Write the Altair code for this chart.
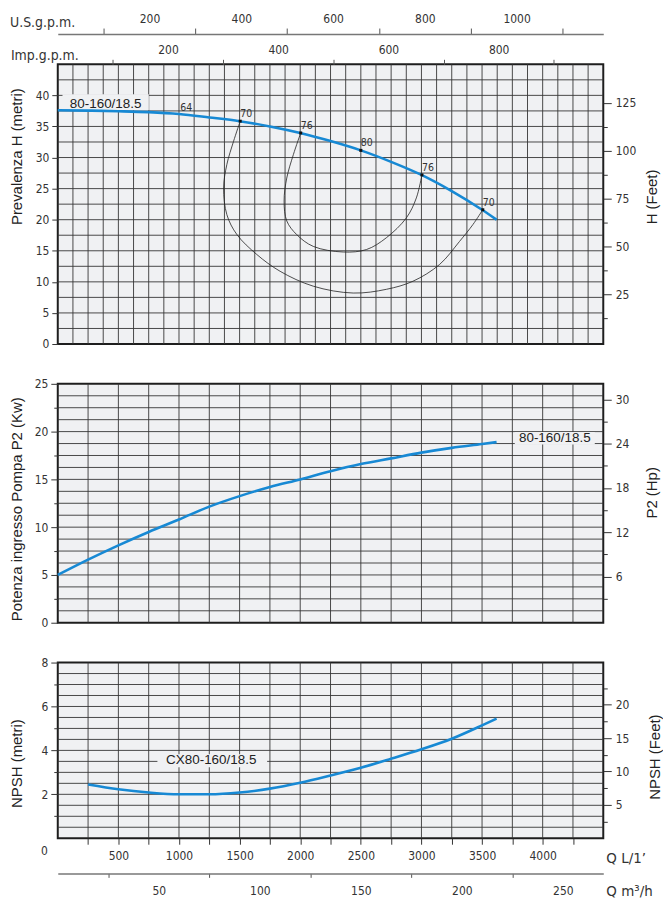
import altair as alt
import pandas as pd
import numpy as np

# ---------------- data ----------------
# Head curve  (Q in L/min, H in m)
q_h = [0, 250, 500, 750, 1000, 1250, 1500, 1750, 2000, 2250, 2500, 2750, 3000, 3250, 3500, 3620]
h_m = [37.6, 37.55, 37.45, 37.3, 37.0, 36.45, 35.85, 35.0, 33.95, 32.65, 31.15, 29.3, 27.2, 24.6, 21.6, 20.0]

# Power curve (kW)
q_p = [0, 250, 500, 750, 1000, 1250, 1500, 1750, 2000, 2250, 2500, 2750, 3000, 3250, 3500, 3620]
p_kw = [5.0, 6.6, 8.1, 9.5, 10.8, 12.15, 13.25, 14.2, 15.0, 15.85, 16.6, 17.2, 17.8, 18.3, 18.7, 18.9]

# NPSH curve (m)
q_n = [250, 500, 750, 1000, 1250, 1500, 1750, 2000, 2250, 2500, 2750, 3000, 3250, 3500, 3620]
npsh_m = [2.45, 2.23, 2.08, 2.0, 2.0, 2.08, 2.26, 2.53, 2.86, 3.21, 3.62, 4.05, 4.53, 5.14, 5.45]

# efficiency points on the head curve
eff_q = [1505, 2004, 2500, 3004, 3506]
eff_h = [35.85, 33.95, 31.15, 27.2, 21.6]
eff_lab = ["70", "76", "80", "76", "70"]
lab64_q = [1010]
lab64_h = [37.0]
lab64_t = ["64"]

# iso-efficiency contours
iso70_q = [1505, 1450, 1395, 1368, 1395, 1478, 1642, 1834, 2108, 2437, 2711, 2930, 3150, 3314, 3424, 3506]
iso70_h = [35.85, 32.6, 28.9, 25.1, 20.8, 17.6, 14.4, 11.7, 9.3, 8.2, 8.8, 10.1, 12.8, 16.5, 19.2, 21.6]
iso76_q = [2004, 1944, 1889, 1867, 1889, 1971, 2108, 2355, 2547, 2711, 2876, 2958, 3004]
iso76_h = [33.95, 30.5, 26.7, 23.0, 19.8, 17.6, 15.7, 14.8, 15.2, 17.1, 20.3, 23.5, 27.2]

# model labels (text, Q, value) and their background boxes (q1,q2,v1,v2)
lab_top = ("80-160/18.5", 395, 38.6, 39, 751, 37.6, 40.2)
lab_mid = ("80-160/18.5", 4100, 19.3, 3770, 4430, 18.65, 19.95)
lab_bot = ("CX80-160/18.5", 1266, 3.55, 822, 1727, 3.23, 3.82)

# the origin label printed at the lower-left corner of the sheet
origin_q = [0]
origin_v = [0]
origin_t = ["0"]

# unit conversions for the secondary axes
Q_MAX = 4500
L_PER_USG = 3.785
L_PER_IMPG = 4.546
L_PER_M3H = 1000 / 60

# secondary y-axis ranges as drawn on the sheet
FT_TOP = [-0.8, 145.2]
HP_MID = [-0.24, 32.09]
FT_BOT = [0, 26.3]

# grid spacing
top_vgrid = list(np.arange(125, 4500, 125))
top_hgrid = list(np.arange(2.5, 45, 2.5))
mid_vgrid = list(np.arange(250, 4500, 250))
mid_hgrid = list(np.arange(1.25, 25, 1.25))
bot_vgrid = list(np.arange(250, 4500, 250))
bot_hgrid = list(np.arange(0.5, 8, 0.5))

# ---------------- styling ----------------
FONT_T = "DejaVu Sans Condensed"
FONT_A = "Liberation Sans"
GRID = "#363636"
BG = "#f0f1f3"
BLUE = "#1789d4"
W = 548
TITLE_X = -41.6


def cond(test, a, b):
    return {"condition": {"test": test, "value": a}, "value": b}


def sc(dom):
    return alt.Scale(domain=dom, nice=False, zero=False)


class Panel:
    def __init__(self, ydom, xaxis, yaxis):
        self.ydom = ydom
        self.xaxis = xaxis
        self.yaxis = yaxis

    def X(self, first=False):
        return alt.X("q:Q", scale=sc([0, Q_MAX]), axis=self.xaxis if first else None)

    def Y(self, first=False):
        return alt.Y("v:Q", scale=sc(self.ydom), axis=self.yaxis if first else None)

    def grid(self, qs, vs):
        y0, y1 = self.ydom
        vg = alt.Chart(pd.DataFrame({"q": qs, "v": y0, "v2": y1})).mark_rule(
            color=GRID, strokeWidth=0.9).encode(x=self.X(True), y=self.Y(True), y2="v2:Q")
        hg = alt.Chart(pd.DataFrame({"v": vs, "q": 0, "q2": Q_MAX})).mark_rule(
            color=GRID, strokeWidth=0.9).encode(x=self.X(), y=self.Y(), x2="q2:Q")
        return [vg, hg]

    def label(self, lab):
        t, q, v, q1, q2, v1, v2 = lab
        bg = alt.Chart(pd.DataFrame({"q": [q1], "q2": [q2], "v": [v1], "v2": [v2]})).mark_rect(
            fill=BG).encode(x=self.X(), x2="q2:Q", y=self.Y(), y2="v2:Q")
        tx = alt.Chart(pd.DataFrame({"q": [q], "v": [v], "t": [t]})).mark_text(
            font=FONT_A, fontSize=13.5, color="#222", align="center", baseline="middle"
        ).encode(x=self.X(), y=self.Y(), text="t:N")
        return [bg, tx]

    def curve(self, qs, vs):
        return alt.Chart(pd.DataFrame({"q": qs, "v": vs})).mark_line(
            color=BLUE, strokeWidth=2.6, interpolate="monotone").encode(x=self.X(), y=self.Y())

    def dummy_y(self, dom, axis):
        return alt.Chart(pd.DataFrame({"q": [0, 0], "s": dom})).mark_point(opacity=0).encode(
            x=self.X(), y=alt.Y("s:Q", scale=sc(dom), axis=axis))

    def dummy_x(self, dom, axis):
        return alt.Chart(pd.DataFrame({"s": dom, "v": [self.ydom[0]] * 2})).mark_point(
            opacity=0).encode(x=alt.X("s:Q", scale=sc(dom), axis=axis), y=self.Y())


def right_axis(title, values, major, tx, ty):
    return alt.Axis(values=values, orient="right", domain=False, grid=False,
                    tickSize=cond(f"datum.value % {major} == 0", 8, 4), tickColor="#333",
                    labelExpr=f"datum.value % {major} == 0 ? datum.label : ''",
                    format="d", labelPadding=4, labelOverlap=False,
                    title=title, titleX=tx, titleY=ty, titleAngle=270,
                    titleAlign="center", titleBaseline="middle")


def left_axis(title, values, ty, major=None):
    kw = dict(values=values, orient="left", domain=False, grid=False, format="d",
              labelPadding=3, labelOverlap=False, title=title, titleX=TITLE_X, titleY=ty,
              titleAngle=270, titleAlign="center", titleBaseline="middle")
    if major is None:
        kw["tickSize"] = 6
    else:
        kw["tickSize"] = cond(f"datum.value % {major} == 0", 7, 4)
        kw["labelExpr"] = f"datum.value % {major} == 0 ? datum.label : ''"
    return alt.Axis(**kw)


def top_unit_axis(title, offset, values, major, tick, pad, tx, ty, domain):
    kw = dict(orient="top", offset=offset, values=values, grid=False, domain=domain,
              tickSize=tick, tickColor="#555", tickOpacity=cond(f"datum.value % {major} == 0", 0, 1),
              labelExpr=f"datum.value % {major} == 0 ? datum.label : ''", format="d",
              labelPadding=pad, labelOverlap=False, labelFlush=False,
              title=title, titleFont=FONT_T, titleFontSize=14, titleColor="#333",
              titleFontWeight="normal",
              titleX=tx, titleY=ty, titleAlign="left", titleBaseline="middle", titleAngle=0)
    if domain:
        kw["domainColor"] = "#777"
        kw["domainWidth"] = 1.5
    return alt.Axis(**kw)


def bottom_title_axis(title, **kw):
    return alt.Axis(orient="bottom", grid=False, format="d", labelOverlap=False, labelFlush=False,
                    title=title, titleFont=FONT_T, titleFontSize=15, titleColor="#333",
                    titleFontWeight="normal", titleX=550.6, titleAlign="left",
                    titleBaseline="middle", titleAngle=0, **kw)


# ---------------- top panel: head ----------------
H_TOP = 281
P1 = Panel([0, 45], None, left_axis("Prevalenza H (metri)", list(range(0, 45, 5)), 92.3))

iso_df = pd.concat([
    pd.DataFrame({"q": iso70_q, "v": iso70_h, "k": "70", "i": range(len(iso70_q))}),
    pd.DataFrame({"q": iso76_q, "v": iso76_h, "k": "76", "i": range(len(iso76_q))}),
])
iso = alt.Chart(iso_df).mark_line(color="#222", strokeWidth=0.8, interpolate="catmull-rom").encode(
    x=P1.X(), y=P1.Y(), detail="k:N", order="i:Q")
eff_df = pd.DataFrame({"q": eff_q, "v": eff_h, "t": eff_lab})
pts = alt.Chart(eff_df).mark_square(color="#111", size=9, opacity=1).encode(x=P1.X(), y=P1.Y())
effl = alt.Chart(eff_df).mark_text(font=FONT_T, fontSize=10.5, color="#333", align="left",
                                   baseline="bottom", dy=-2).encode(x=P1.X(), y=P1.Y(), text="t:N")
l64 = alt.Chart(pd.DataFrame({"q": lab64_q, "v": lab64_h, "t": lab64_t})).mark_text(
    font=FONT_T, fontSize=10.5, color="#333", align="left", baseline="bottom", dy=-1
).encode(x=P1.X(), y=P1.Y(), text="t:N")

ft_top = P1.dummy_y(FT_TOP, right_axis("H (Feet)", [12.5 * k for k in range(1, 11)],
                                       25, 48, 132.8))
us_d = P1.dummy_x([0, Q_MAX / L_PER_USG],
                  top_unit_axis("U.S.g.p.m.", 30.4, list(range(100, 1200, 100)), 200, 6, 2.5,
                                -48.5, -11.8, True))
imp_d = P1.dummy_x([0, Q_MAX / L_PER_IMPG],
                   top_unit_axis("Imp.g.p.m.", 0, list(range(100, 1000, 100)), 200, 5, 3.2,
                                 -47.6, -9.0, False))

top = alt.layer(*P1.grid(top_vgrid, top_hgrid), *P1.label(lab_top), iso,
                P1.curve(q_h, h_m), pts, effl, l64, ft_top, us_d, imp_d
                ).resolve_scale(x="independent", y="independent").properties(width=W, height=H_TOP)

# ---------------- middle panel: power ----------------
H_MID = 240
P2 = Panel([0, 25], None, left_axis("Potenza ingresso Pompa P2 (Kw)",
                                    [2.5 * k for k in range(0, 11)], 125.5, major=5))
hp_mid = P2.dummy_y(HP_MID, right_axis("P2 (Hp)", [3 * k for k in range(1, 11)], 6, 48.7, 109))
mid = alt.layer(*P2.grid(mid_vgrid, mid_hgrid), *P2.label(lab_mid), P2.curve(q_p, p_kw), hp_mid
                ).resolve_scale(x="independent", y="independent").properties(width=W, height=H_MID)

# ---------------- bottom panel: NPSH ----------------
H_BOT = 176.5
q_axis = bottom_title_axis(
    "Q  L/1’", values=list(range(250, 4500, 250)), domain=False,
    tickSize=6, tickColor="#333",
    labelExpr="datum.value % 500 == 0 ? datum.label : ''",
    labelPadding=6.5, titleY=19.3)
P3 = Panel([0, 8], q_axis, left_axis("NPSH (metri)", list(range(1, 9)), 101, major=2))
ft_bot = P3.dummy_y(FT_BOT, right_axis("NPSH (Feet)", [2.5 * k for k in range(1, 10)],
                                       5, 51, 94.5))
m3_axis = bottom_title_axis(
    "Q  m³/h", offset=35.3, values=list(range(25, 275, 25)),
    domain=True, domainColor="#777", domainWidth=1.5,
    tickSize=4, tickColor="#555", tickOpacity=cond("datum.value % 50 == 0", 0, 1),
    labelExpr="datum.value % 50 == 0 ? datum.label : ''", labelPadding=8, titleY=17.5)
m3_d = P3.dummy_x([0, Q_MAX / L_PER_M3H], m3_axis)
origin = alt.Chart(pd.DataFrame({"q": origin_q, "v": origin_v, "t": origin_t})).mark_text(
    font=FONT_T, fontSize=12, color="#333", align="right", baseline="middle", dx=-10, dy=13
).encode(x=P3.X(), y=P3.Y(), text="t:N")
bot = alt.layer(*P3.grid(bot_vgrid, bot_hgrid), *P3.label(lab_bot), P3.curve(q_n, npsh_m),
                origin, ft_bot, m3_d
                ).resolve_scale(x="independent", y="independent").properties(width=W, height=H_BOT)

chart = alt.vconcat(top, mid, bot, spacing=40, bounds="flush").properties(
    padding={"left": 0, "top": 1.5, "right": 0, "bottom": 0}
).configure_view(
    stroke="#1e1e1e", strokeWidth=2, fill=BG
).configure_axis(
    labelFont=FONT_T, labelFontSize=12, labelColor="#333", tickColor="#333", tickWidth=1,
    titleFont=FONT_A, titleFontSize=15, titleFontWeight="normal", titleColor="#222"
)

chart.save("out.html", embed_options={"renderer": "svg", "actions": False})
